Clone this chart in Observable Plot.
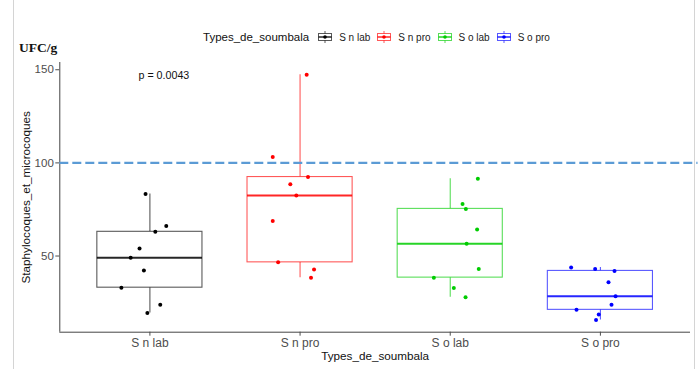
<!DOCTYPE html>
<html><head><meta charset="utf-8">
<script src="https://cdn.jsdelivr.net/npm/d3@7"></script>
<script src="https://cdn.jsdelivr.net/npm/@observablehq/plot@0.6"></script>
<style>
body{margin:0;background:#fff;font-family:"Liberation Sans",Arial,sans-serif;}
#wrap{position:relative;width:699px;height:369px;overflow:hidden;background:#fff}
#wrap svg.plot{position:absolute;left:0;top:0}
.border{position:absolute;top:0;width:1px;height:369px;background:#d4d4d4}
#unit{position:absolute;left:19px;top:39px;font-family:"Liberation Serif","Times New Roman",serif;font-weight:bold;font-size:13.5px;line-height:18px;color:#111}
#legend{position:absolute;left:203px;top:29px;height:16px;display:flex;align-items:center;font-size:10px;color:#222}
#legend .ttl{font-size:11.5px;margin-right:8px;color:#111}
#legend .key{width:16px;height:12px;margin-right:6px}
#legend .lab{margin-right:6px}
</style></head><body><div id="wrap"></div>
<script>
const categories = ["S n lab", "S n pro", "S o lab", "S o pro"];
const colors = ["#000000", "#FF0000", "#00CC00", "#0000FF"];
const valuesSnLab = [83.3, 66.1, 63.0, 54.0, 49.1, 42.2, 33.0, 23.9, 19.4];
const jitterSnLab = [-0.029, 0.109, 0.036, -0.069, -0.128, -0.040, -0.190, 0.069, -0.017];
const valuesSnPro = [147.3, 103.1, 92.4, 88.6, 82.5, 68.8, 46.6, 42.7, 38.4];
const jitterSnPro = [0.044, -0.182, 0.053, -0.065, -0.025, -0.182, -0.146, 0.093, 0.073];
const valuesSoLab = [91.5, 77.9, 75.3, 64.3, 56.6, 43.0, 38.4, 32.8, 27.8];
const jitterSoLab = [0.184, 0.082, 0.104, 0.179, 0.109, 0.190, -0.109, 0.024, 0.102];
const valuesSoPro = [43.9, 43.0, 42.0, 35.9, 28.4, 23.9, 21.1, 18.6, 15.7];
const jitterSoPro = [-0.195, -0.035, 0.094, 0.054, 0.101, 0.074, -0.159, -0.011, -0.029];
const yTicks = [50, 100, 150];
const threshold = 100;
const pValueLabel = "p = 0.0043";
const yTitle = "Staphylocoques_et_microcoques";
const xTitle = "Types_de_soumbala";
const legendTitle = "Types_de_soumbala";
const unitLabel = "UFC/g";

const groupValues = [valuesSnLab, valuesSnPro, valuesSoLab, valuesSoPro];
const groupJitter = [jitterSnLab, jitterSnPro, jitterSoLab, jitterSoPro];

const points = [];
const stats = [];
categories.forEach((cat, i) => {
  const vals = groupValues[i];
  vals.forEach((v, j) => points.push({cat, pos: i + 1 + groupJitter[i][j], value: v}));
  const s = vals.slice().sort(d3.ascending);
  const q1 = d3.quantile(s, 0.25), med = d3.quantile(s, 0.5), q3 = d3.quantile(s, 0.75);
  const iqr = q3 - q1;
  const lo = d3.min(s.filter(v => v >= q1 - 1.5 * iqr));
  const hi = d3.max(s.filter(v => v <= q3 + 1.5 * iqr));
  stats.push({cat, pos: i + 1, x1: i + 1 - 0.35, x2: i + 1 + 0.35, q1, med, q3, lo, hi});
});

const font = '"Liberation Sans", Arial, sans-serif';
const yMin = 9.1, yMax = 153.9;

const chart = Plot.plot({
  width: 699, height: 369,
  marginLeft: 59.3, marginRight: 9, marginTop: 62, marginBottom: 37.3,
  x: {domain: [0.4, 4.6]},
  y: {domain: [yMin, yMax]},
  color: {domain: categories, range: colors},
  style: {fontFamily: font, background: "transparent", overflow: "visible"},
  marks: [
    Plot.ruleX(stats, {x: "pos", y1: "q3", y2: "hi", stroke: "cat", strokeOpacity: 0.65, strokeWidth: 1.1}),
    Plot.ruleX(stats, {x: "pos", y1: "lo", y2: "q1", stroke: "cat", strokeOpacity: 0.65, strokeWidth: 1.1}),
    Plot.rect(stats, {x1: "x1", x2: "x2", y1: "q1", y2: "q3", fill: "white", stroke: "cat", strokeOpacity: 0.65, strokeWidth: 1.1}),
    Plot.ruleY(stats, {x1: "x1", x2: "x2", y: "med", stroke: "cat", strokeOpacity: 0.85, strokeWidth: 2}),
    Plot.dot(points, {x: "pos", y: "value", fill: "cat", r: 2}),
    Plot.ruleX([0.4], {stroke: "#444", strokeWidth: 1}),
    Plot.ruleY([yMin], {stroke: "#444", strokeWidth: 1}),
    Plot.axisY({ticks: yTicks, tickSize: 4, tickPadding: 2, fontSize: 11.5, color: "#4D4D4D", label: null}),
    Plot.axisX({ticks: [1, 2, 3, 4], tickFormat: d => categories[d - 1], tickSize: 4, tickPadding: 2, fontSize: 12, color: "#4D4D4D", label: null}),
    Plot.text([xTitle], {frameAnchor: "bottom", dy: 24, lineAnchor: "middle", text: d => d, fontSize: 11.7, fill: "#111"}),
    Plot.text([yTitle], {frameAnchor: "left", dx: -34, rotate: -90, textAnchor: "middle", lineAnchor: "middle", text: d => d, fontSize: 11.7, fill: "#111"}),
    Plot.text([pValueLabel], {x: 0.924, y: 146.9, text: d => d, textAnchor: "start", fontSize: 10.7, fill: "#111"}),
    Plot.ruleY([threshold], {x1: 0.4, x2: 4.65, stroke: "#5B9BD5", strokeWidth: 2.2, strokeDasharray: "9,4", clip: false})
  ]
});
chart.classList.add("plot");

const wrap = document.getElementById("wrap");
wrap.appendChild(chart);

const bl = document.createElement("div"); bl.className = "border"; bl.style.left = "13px"; wrap.appendChild(bl);
const br = document.createElement("div"); br.className = "border"; br.style.left = "694px"; wrap.appendChild(br);

const unit = document.createElement("div"); unit.id = "unit"; unit.textContent = unitLabel; wrap.appendChild(unit);

const legend = document.createElement("div"); legend.id = "legend";
const ttl = document.createElement("span"); ttl.className = "ttl"; ttl.textContent = legendTitle; legend.appendChild(ttl);
categories.forEach((cat, i) => {
  const c = colors[i];
  const key = document.createElementNS("http://www.w3.org/2000/svg", "svg");
  key.setAttribute("class", "key"); key.setAttribute("width", 16); key.setAttribute("height", 12);
  key.innerHTML = `<line x1="8" x2="8" y1="0" y2="12" stroke="${c}" stroke-opacity="0.65"/>
    <rect x="1.5" y="2.5" width="13" height="7" fill="white" stroke="${c}" stroke-opacity="0.65"/>
    <line x1="1.5" x2="14.5" y1="6" y2="6" stroke="${c}" stroke-opacity="0.85" stroke-width="1.5"/>
    <circle cx="8" cy="6" r="1.8" fill="${c}"/>`;
  legend.appendChild(key);
  const lab = document.createElement("span"); lab.className = "lab"; lab.textContent = cat; legend.appendChild(lab);
});
wrap.appendChild(legend);
</script></body></html>
